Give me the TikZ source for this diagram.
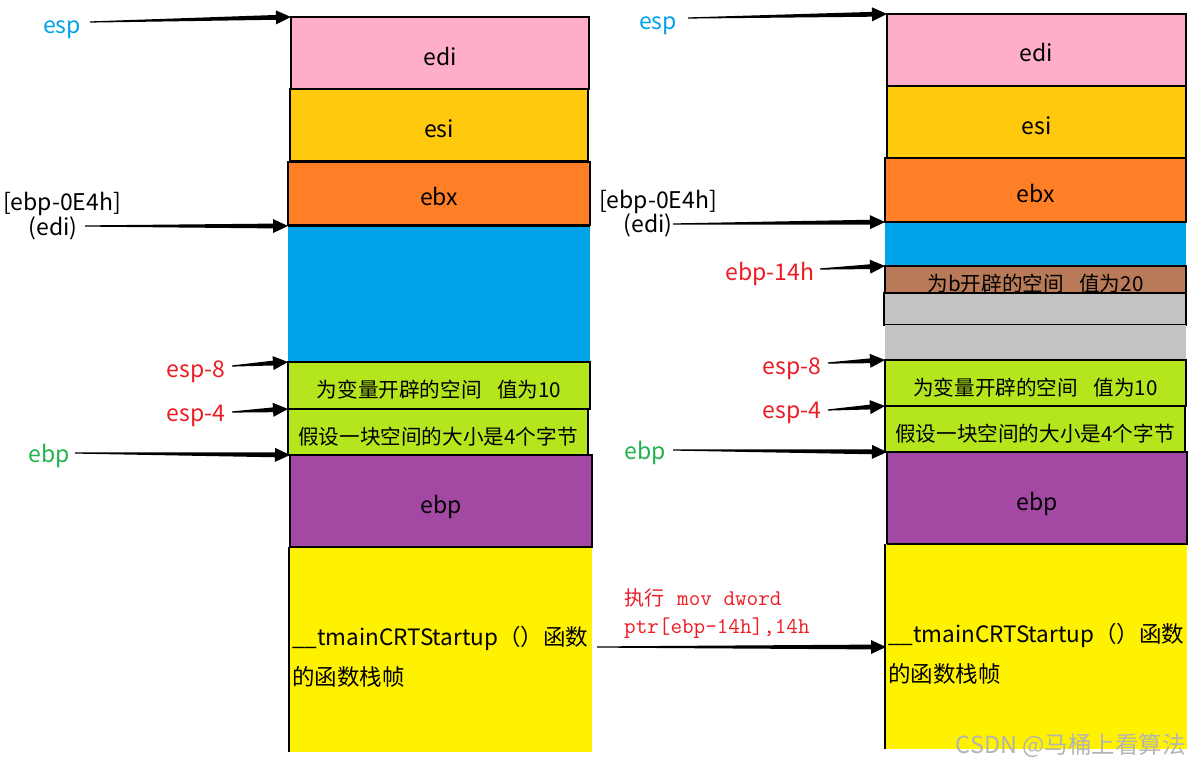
\documentclass[tikz,border=0pt]{standalone}
\usepackage{fontspec}
\setmainfont{Noto Sans CJK SC}
\newfontfamily\cjk{Noto Sans CJK SC}
\usetikzlibrary{calc}
\definecolor{cpink}{HTML}{FFAEC9}
\definecolor{cesi}{HTML}{FFC90E}
\definecolor{cebx}{HTML}{FF7F27}
\definecolor{cblue}{HTML}{00A2E8}
\definecolor{cgreen}{HTML}{B5E61D}
\definecolor{cpur}{HTML}{A349A4}
\definecolor{cyel}{HTML}{FFF200}
\definecolor{cbrown}{HTML}{B97A57}
\definecolor{cgray}{HTML}{C3C3C3}
\definecolor{cred}{HTML}{ED1C24}
\definecolor{cglab}{HTML}{22B14C}
\definecolor{cwm}{HTML}{B4B4B4}
\tikzset{
  box/.style={anchor=north west, inner sep=0pt, outer sep=0pt, draw=black, line width=1.2pt, text height=24pt, text depth=0pt, font=\fontsize{23}{26}\selectfont},
  nobox/.style={box, draw=none},
  cnbox/.style={box, font=\fontsize{20.6}{24}\selectfont},
  lab/.style={inner sep=0pt, font=\fontsize{23}{26}\selectfont},
  ytext/.style={anchor=west, inner sep=0pt, align=left, font=\fontsize{22.5}{40}\selectfont},
}
\newcommand{\taper}[2]{%
  \coordinate (tpc) at ($(#2)!15pt!(#1)$);
  \fill[black] ($(#1)!0.6pt!90:(#2)$) -- ($(tpc)!2.4pt!-90:(#1)$) -- ($(tpc)!7pt!-90:(#1)$) -- (#2) -- ($(tpc)!7pt!90:(#1)$) -- ($(tpc)!2.4pt!90:(#1)$) -- ($(#1)!0.6pt!-90:(#2)$) -- cycle;}
\newcommand{\gapsp}{\hspace{0.75em}}
\begin{document}
\begin{tikzpicture}[x=1pt,y=-1pt]
\useasboundingbox[fill=white] (0,0) rectangle (1201,768);
% ---------- left stack ----------
\node[box, fill=cpink, minimum width=298pt, minimum height=72pt] (Ledi) at (291,17) {edi};
\node[box, fill=cesi, minimum width=298pt, minimum height=72pt] (Lesi) at (290,89) {esi};
\node[box, fill=cebx, minimum width=302pt, minimum height=63pt] (Lebx) at (288,162) {ebx};
\node[nobox, fill=cblue, minimum width=302pt, minimum height=136pt] (Lblue) at (288,226) {};
\draw[line width=1.2pt] (Lblue.north west) -- (Lblue.north east);
\node[cnbox, fill=cgreen, minimum width=302pt, minimum height=47pt] (Lg1) at (288,362) {为变量开辟的空间\gapsp 值为10};
\node[cnbox, fill=cgreen, minimum width=300pt, minimum height=46pt] (Lg2) at (288,409) {假设一块空间的大小是4个字节};
\node[box, fill=cpur, minimum width=302pt, minimum height=92pt] (Lpur) at (290,455) {ebp};
\node[nobox, fill=cyel, minimum width=303pt, minimum height=205pt] (Lyel) at (289,547) {};
\draw[line width=1.2pt] (Lyel.north west) -- (Lyel.south west);
\draw[line width=1.2pt] (Lpur.south west) -- (Lpur.south east);
\node[ytext] (Ltxt) at (292,657) {\_\_tmainCRTStartup（）函数\\的函数栈帧};
% ---------- right stack ----------
\node[box, fill=cpink, minimum width=299pt, minimum height=72pt] (Redi) at (887,14) {edi};
\node[box, fill=cesi, minimum width=299pt, minimum height=72pt] (Resi) at (887,86) {esi};
\node[box, fill=cebx, minimum width=301pt, minimum height=64pt] (Rebx) at (885,158) {ebx};
\node[nobox, fill=cblue, minimum width=301pt, minimum height=44pt] (Rblue) at (885,222) {};
\draw[line width=1.2pt] (Rblue.north west) -- (Rblue.north east);
\node[cnbox, fill=cbrown, minimum width=301pt, minimum height=27pt] (Rbrown) at (885,266) {为b开辟的空间\gapsp 值为20};
\node[box, fill=cgray, minimum width=302pt, minimum height=32pt] (Rgray1) at (884,293) {};
\node[nobox, fill=cgray, minimum width=301pt, minimum height=35pt] (Rgray2) at (885,325) {};
\node[cnbox, fill=cgreen, minimum width=301pt, minimum height=46pt] (Rg1) at (885,360) {为变量开辟的空间\gapsp 值为10};
\node[cnbox, fill=cgreen, minimum width=300pt, minimum height=46pt] (Rg2) at (885,406) {假设一块空间的大小是4个字节};
\node[box, fill=cpur, minimum width=300pt, minimum height=92pt] (Rpur) at (887,452) {ebp};
\node[nobox, fill=cyel, minimum width=302pt, minimum height=205pt] (Ryel) at (885,544) {};
\draw[line width=1.2pt] (Ryel.north west) -- (Ryel.south west);
\draw[line width=1.2pt] (Rpur.south west) -- (Rpur.south east);
\node[ytext] (Rtxt) at (888,654) {\_\_tmainCRTStartup（）函数\\的函数栈帧};
% ---------- left labels ----------
\node[lab, text=cblue] (lesp) at (62,30) {esp};
\node[lab] (l0e4) at (62,204) {[ebp-0E4h]};
\node[lab] (ledi) at (53,228) {(edi)};
\node[lab, text=cred] (lesp8) at (196,372) {esp-8};
\node[lab, text=cred] (lesp4) at (196,416) {esp-4};
\node[lab, text=cglab] (lebp) at (49,456) {ebp};
\coordinate (sl1) at (90,22);
\coordinate (sl2) at (85,226);
\coordinate (sl3) at (232,366);
\coordinate (sl4) at (232,412);
\coordinate (sl5) at (75,453);
\taper{sl1}{Ledi.north west}
\taper{sl2}{Lblue.north west}
\taper{sl3}{Lg1.north west}
\taper{sl4}{Lg2.north west}
\taper{sl5}{Lpur.north west}
% ---------- right labels ----------
\node[lab, text=cblue] (resp) at (658,26) {esp};
\node[lab] (r0e4) at (658,202) {[ebp-0E4h]};
\node[lab] (redi) at (648,225) {(edi)};
\node[lab, text=cred] (r14h) at (770,274) {ebp-14h};
\node[lab, text=cred] (resp8) at (792,369) {esp-8};
\node[lab, text=cred] (resp4) at (792,413) {esp-4};
\node[lab, text=cglab] (rebp) at (645,453) {ebp};
\coordinate (sr1) at (688,18);
\coordinate (sr2) at (673,224);
\coordinate (sr3) at (820,269);
\coordinate (sr4) at (828,363);
\coordinate (sr5) at (828,410);
\coordinate (sr6) at (673,450);
\taper{sr1}{Redi.north west}
\taper{sr2}{Rblue.north west}
\taper{sr3}{Rbrown.north west}
\taper{sr4}{Rg1.north west}
\taper{sr5}{Rg2.north west}
\taper{sr6}{Rpur.north west}
% ---------- middle ----------
\node[anchor=north west, inner sep=0pt, align=left, text=cred, font=\fontsize{22.5}{28}\selectfont] (cmd) at (624,588) {{\cjk\fontsize{20}{28}\selectfont 执行}\hspace{13pt}{\ttfamily mov dword}\\{\ttfamily ptr[ebp-14h],14h}};
\coordinate (ms) at (597,647);
\coordinate (me) at (886,647);
\taper{ms}{me}
% ---------- watermark ----------
\node[anchor=east, inner sep=0pt, text=cwm, font=\fontsize{23.5}{26}\selectfont] (wm) at (1186,746) {CSDN @马桶上看算法};
\end{tikzpicture}
\end{document}
